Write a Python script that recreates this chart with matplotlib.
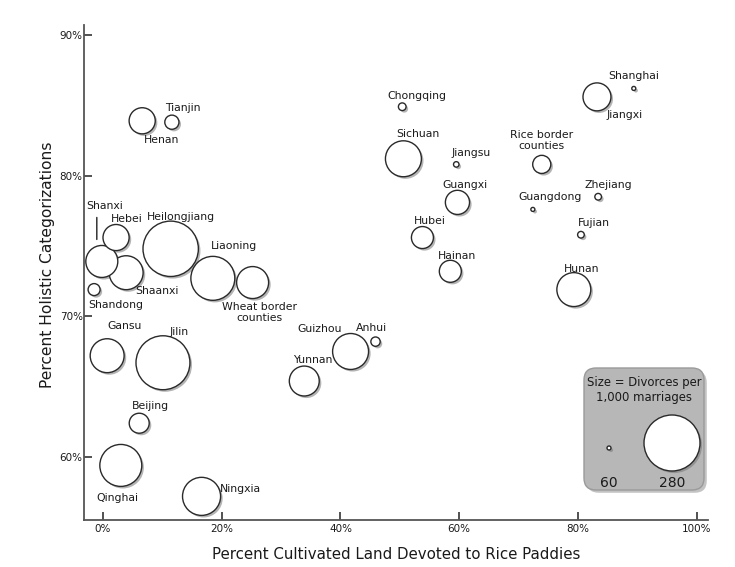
import matplotlib
matplotlib.use("Agg")
import matplotlib.pyplot as plt
import matplotlib.patheffects as pe
from matplotlib.patches import FancyBboxPatch
from matplotlib.ticker import PercentFormatter
from matplotlib.transforms import offset_copy

# data: percent rice paddies, percent holistic, divorces per 1,000 marriages
regions = ["Henan", "Tianjin", "Shaanxi", "Shanxi", "Hebei", "Heilongjiang",
           "Liaoning", "Wheat border\ncounties", "Shandong", "Gansu", "Jilin",
           "Beijing", "Qinghai", "Ningxia", "Chongqing", "Sichuan", "Jiangsu",
           "Guangxi", "Hubei", "Hainan", "Guizhou", "Anhui", "Yunnan",
           "Jiangxi", "Shanghai", "Rice border\ncounties", "Zhejiang",
           "Guangdong", "Fujian", "Hunan"]
rice = [6.6, 11.6, 3.9, -0.2, 2.2, 11.4,
        18.5, 25.2, -1.5, 0.7, 10.1,
        6.1, 3.0, 16.6, 50.4, 50.6, 59.5,
        59.7, 53.8, 58.5, 41.7, 45.9, 33.9,
        83.2, 89.4, 73.9, 83.4,
        72.4, 80.5, 79.3]
holistic = [83.9, 83.8, 73.1, 73.9, 75.6, 74.8,
            72.7, 72.4, 71.9, 67.2, 66.7,
            62.4, 59.4, 57.2, 84.9, 81.2, 80.8,
            78.1, 75.6, 73.2, 67.5, 68.2, 65.4,
            85.6, 86.2, 80.8, 78.5,
            77.6, 75.8, 71.9]
divorces = [107, 73, 140, 131, 107, 275,
            195, 131, 69, 140, 264,
            87, 183, 161, 63, 150, 61,
            100, 93, 93, 150, 65, 122,
            114, 60, 82, 62,
            60, 62, 140]

legend_sizes = [60, 280]

# label offsets in pixels (label centre relative to bubble centre)
label_offsets = [(19, -19), (11, 14), (31, -18), (3, 55), (11, 19), (10, 32),
                 (21, 32), (7, -30), (22, -15), (17, 30), (16, 31),
                 (11, 17), (-3, -33), (39, 7), (15, 11), (14, 25), (15, 11),
                 (7, 17), (7, 17), (7, 15), (-31, 22), (-4, 14), (8, 21),
                 (28, -18), (0, 12), (0, 24), (10, 12),
                 (17, 12), (13, 12), (8, 21)]


def bubble_area(v):
    # area grows linearly: 60 -> radius 2 px, 280 -> radius 28 px
    r2 = 4 + (v - 60) * 780 / 220
    return 4 * 0.72 ** 2 * r2


TEXT = "#1a1a1a"
AXC = "#555555"
shadow = [pe.SimplePatchShadow(offset=(1.5, -1.5), shadow_rgbFace="#777777", alpha=0.55),
          pe.Normal()]

fig = plt.figure(figsize=(7.35, 5.67), dpi=100)
ax = fig.add_axes([84 / 735, 1 - 520 / 567, 624 / 735, 495 / 567])

ax.scatter(rice, holistic, s=[bubble_area(v) for v in divorces],
           facecolor="white", edgecolor="#2a2a2a", linewidth=1.0,
           path_effects=shadow, zorder=3)

for name, x, y, (dx, dy) in zip(regions, rice, holistic, label_offsets):
    ax.annotate(name, (x, y), xytext=(dx, dy), textcoords="offset pixels",
                ha="center", va="center", fontsize=7.8, color=TEXT,
                linespacing=1.1, zorder=4)

# leader line for Shanxi
i = regions.index("Shanxi")
ax.annotate("", xy=(rice[i], holistic[i]),
            xycoords=offset_copy(ax.transData, fig=fig, x=-5, y=22, units="dots"),
            xytext=(0, 22), textcoords="offset pixels",
            arrowprops=dict(arrowstyle="-", color="#222222", lw=1.0,
                            shrinkA=0, shrinkB=0))

ax.set_xlim(-3.2, 101.9)
ax.set_ylim(55.52, 90.71)
ax.set_xticks([0, 20, 40, 60, 80, 100])
ax.set_yticks([60, 70, 80, 90])
ax.xaxis.set_major_formatter(PercentFormatter(decimals=0))
ax.yaxis.set_major_formatter(PercentFormatter(decimals=0))
for side in ["top", "right"]:
    ax.spines[side].set_visible(False)
for side in ["left", "bottom"]:
    ax.spines[side].set_color(AXC)
    ax.spines[side].set_linewidth(1.3)
ax.tick_params(direction="in", length=6, width=1.2, color="#333333",
               labelsize=7.5, labelcolor=TEXT)
ax.tick_params(axis="y", pad=1)
ax.tick_params(axis="x", pad=3)

ax.set_xlabel("Percent Cultivated Land Devoted to Rice Paddies",
              fontsize=10.8, color=TEXT, labelpad=9)
ax.set_ylabel("Percent Holistic Categorizations", fontsize=11.2, color=TEXT)
ax.yaxis.set_label_coords(-0.047, 0.515)

# size legend
lax = fig.add_axes([581 / 735, 1 - 493 / 567, 126 / 735, 128 / 567])
lax.set_xlim(0, 126)
lax.set_ylim(128, 0)
lax.axis("off")
box = FancyBboxPatch((3, 3), 120, 122, boxstyle="round,pad=0,rounding_size=12",
                     facecolor="#b7b7b7", edgecolor="#9a9a9a", linewidth=1.0,
                     path_effects=[pe.SimplePatchShadow(offset=(2, -2),
                                                        shadow_rgbFace="#888888",
                                                        alpha=0.5),
                                   pe.Normal()])
lax.add_patch(box)
lax.text(63, 25, "Size = Divorces per\n1,000 marriages", ha="center",
         va="center", fontsize=8.4, color=TEXT, linespacing=1.15)
lax.scatter([28, 91], [83, 78], s=[bubble_area(v) for v in legend_sizes],
            facecolor="white", edgecolor="#2a2a2a", linewidth=1.0,
            path_effects=shadow, zorder=3)
for xp, v in zip([28, 91], legend_sizes):
    lax.text(xp, 118, str(v), ha="center", va="center", fontsize=10, color=TEXT)

fig.savefig("out.png", dpi=100)
